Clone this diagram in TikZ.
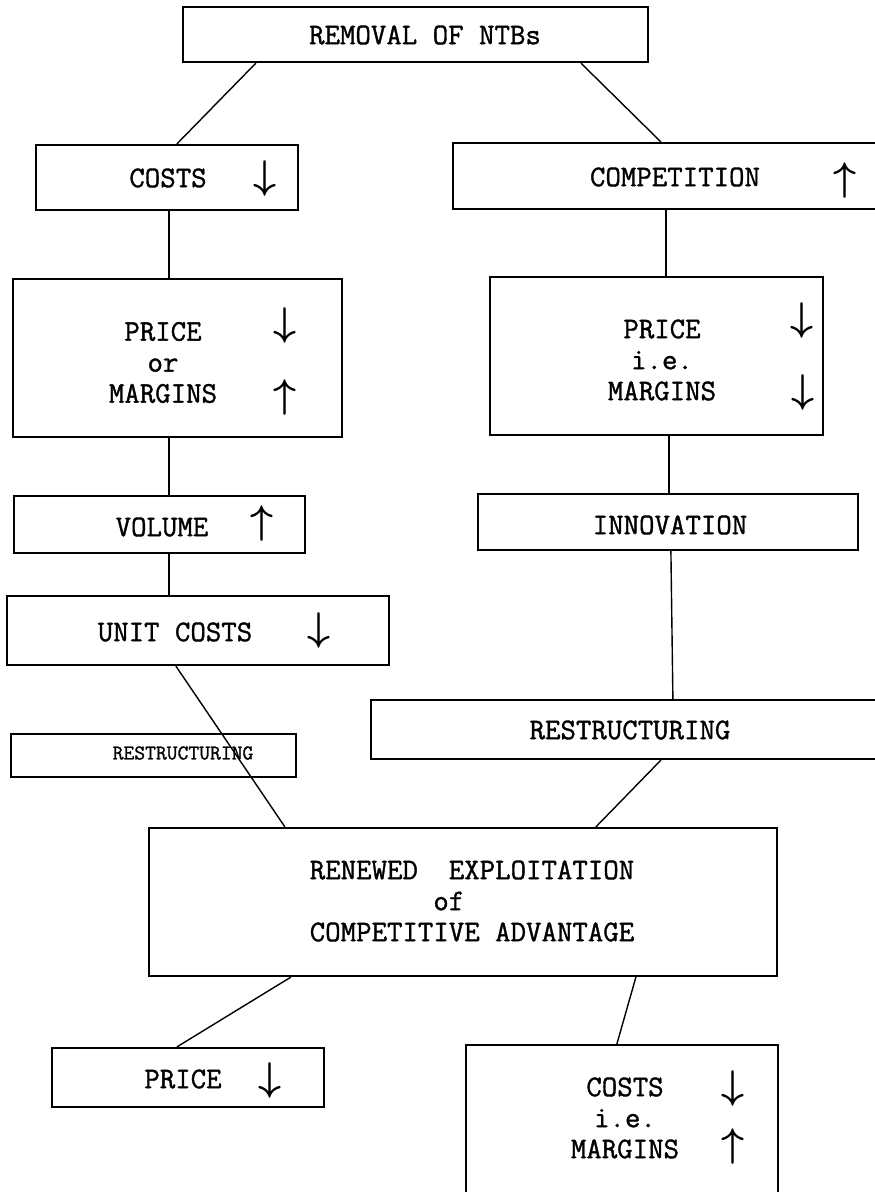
\RequirePackage{fix-cm}
\documentclass[tikz,border=0pt]{standalone}
\usepackage{fontspec}
\newfontfamily\tw{Latin Modern Mono}[FakeBold=1.2]
\usetikzlibrary{calc}
\begin{document}
\begin{tikzpicture}[x=1pt,y=-1pt,
  box/.style={draw, line width=2.2pt, inner sep=0pt},
  conn/.style={line width=1.4pt},
  lbl/.style={font=\fontsize{30}{31}\selectfont\tw, inner sep=0pt, align=center},
  small/.style={font=\fontsize{21}{22}\selectfont\tw, inner sep=0pt},
  arr/.style={font=\fontsize{40}{40}\selectfont\boldmath, inner sep=0pt}]
\useasboundingbox (0,0) rectangle (875,1192);
\clip (0,0) rectangle (875,1192);
% boxes
\node[box, minimum width=465pt, minimum height=55pt] (b1) at (415.5,34.5) {};
\node[box, minimum width=262pt, minimum height=65pt] (b2) at (167,177.5) {};
\node[box, minimum width=457pt, minimum height=66pt] (b3) at (681.5,176) {};
\node[box, minimum width=329pt, minimum height=158pt] (b4) at (177.5,358) {};
\node[box, minimum width=333pt, minimum height=158pt] (b5) at (656.5,356) {};
\node[box, minimum width=291pt, minimum height=57pt] (b6) at (159.5,524.5) {};
\node[box, minimum width=380pt, minimum height=56pt] (b7) at (668,522) {};
\node[box, minimum width=382pt, minimum height=69pt] (b8) at (198,630.5) {};
\node[box, minimum width=285pt, minimum height=43pt] (b9) at (153.5,755.5) {};
\node[box, minimum width=539pt, minimum height=59pt] (b10) at (640.5,729.5) {};
\node[box, minimum width=628pt, minimum height=148pt] (b11) at (463,902) {};
\node[box, minimum width=272pt, minimum height=59pt] (b12) at (188,1077.5) {};
\node[box, minimum width=312pt, minimum height=195pt] (b13) at (622,1142.5) {};
% texts
\node[lbl] (t1) at (425,35) {REMOVAL OF NTBs};
\node[lbl] (t2) at (168,178) {COSTS};
\node[arr] (a2) at (265,178) {$\downarrow$};
\node[lbl] (t3) at (675,177) {COMPETITION};
\node[arr] (a3) at (845,180) {$\uparrow$};
\node[lbl] (t4) at (163,362.5) {PRICE\\or\\MARGINS};
\node[arr] (a4a) at (285,325) {$\downarrow$};
\node[arr] (a4b) at (285,397) {$\uparrow$};
\node[lbl] (t5) at (662,360) {PRICE\\i.e.\\MARGINS};
\node[arr] (a5a) at (802,320) {$\downarrow$};
\node[arr] (a5b) at (803,392) {$\downarrow$};
\node[lbl] (t6) at (162,527) {VOLUME};
\node[arr] (a6) at (262,523) {$\uparrow$};
\node[lbl] (t7) at (670,525) {INNOVATION};
\node[lbl] (t8) at (175,632) {UNIT COSTS};
\node[arr] (a8) at (319,630) {$\downarrow$};
\node[small] (t9) at (183,753) {RESTRUCTURING};
\node[lbl] (t10) at (630,730) {RESTRUCTURING};
\node[lbl, align=left] (t11) at (472,901) {RENEWED\ \ EXPLOITATION\\\phantom{RENEWED\ }of\\COMPETITIVE ADVANTAGE};
\node[lbl] (t12) at (183,1079) {PRICE};
\node[arr] (a12) at (270,1080) {$\downarrow$};
\node[lbl] (t13) at (625,1118) {COSTS\\i.e.\\MARGINS};
\node[arr] (a13a) at (733,1088) {$\downarrow$};
\node[arr] (a13b) at (733,1146) {$\uparrow$};
% connectors
\draw[conn] ($(b1.south west)+(74,0)$) -- ($(b2.north west)+(142,0)$);
\draw[conn] ($(b1.south west)+(399,0)$) -- ($(b3.north west)+(209,0)$);
\draw[conn] ($(b2.south west)+(134,0)$) -- ($(b4.north west)+(157,0)$);
\draw[conn] ($(b3.south west)+(214,0)$) -- ($(b5.north west)+(177,0)$);
\draw[conn] ($(b4.south west)+(157,0)$) -- ($(b6.north west)+(156,0)$);
\draw[conn] ($(b5.south west)+(180,0)$) -- ($(b7.north west)+(192,0)$);
\draw[conn] ($(b6.south west)+(156,0)$) -- ($(b8.north west)+(163,0)$);
\draw[conn] ($(b7.south west)+(194,0)$) -- ($(b10.north west)+(303,0)$);
\draw[conn] ($(b8.south west)+(170,0)$) -- ($(b11.north west)+(137,0)$);
\draw[conn] ($(b10.south west)+(291,0)$) -- ($(b11.north west)+(448,0)$);
\draw[conn] ($(b11.south west)+(143,0)$) -- ($(b12.north west)+(126,0)$);
\draw[conn] ($(b11.south west)+(488,0)$) -- ($(b13.north west)+(152,0)$);
\end{tikzpicture}
\end{document}
